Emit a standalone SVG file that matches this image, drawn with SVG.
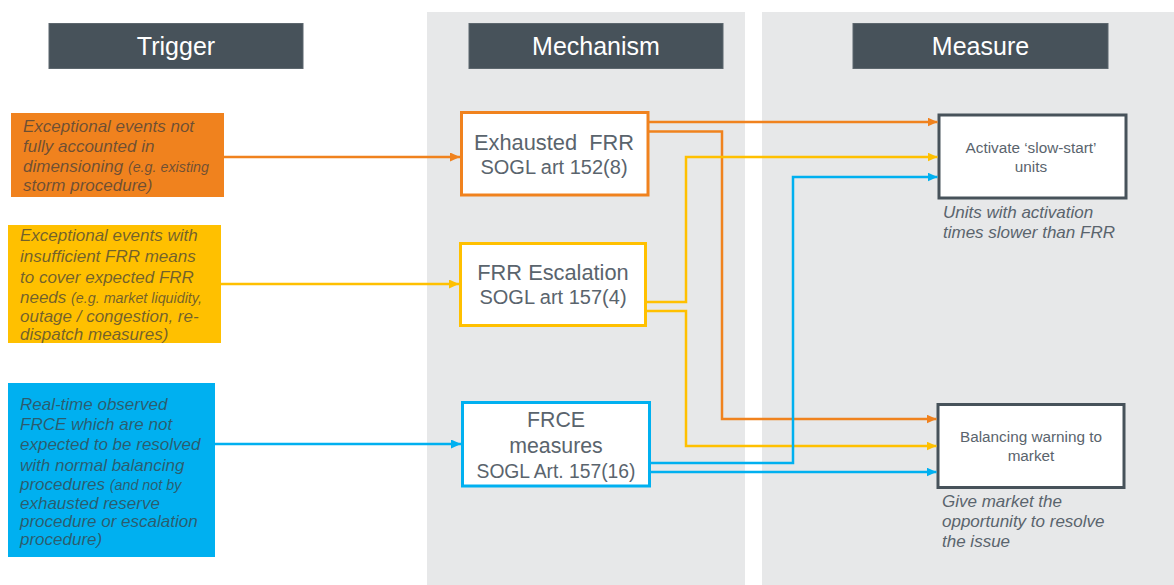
<svg xmlns="http://www.w3.org/2000/svg" width="1174" height="585" viewBox="0 0 1174 585">
<defs>
<style>
.col{fill:#E7E8E9}
.hdr rect{fill:#47525A;stroke:#5d676e;stroke-width:1}
.hdr text{fill:#FFFFFF;font-family:"Liberation Sans",Arial,sans-serif;font-size:25px;text-anchor:middle}
.trg text{fill:#3C3C3C;fill-opacity:0.72;font-family:"Liberation Sans",Arial,sans-serif;font-style:italic;font-size:17px}
.sm{font-size:14.3px}
.mech rect{fill:#FFFFFF;stroke-width:3}
.mech text{fill:#5A646D;font-family:"Liberation Sans",Arial,sans-serif;font-size:20px;text-anchor:middle;white-space:pre}
.mech text.t{font-size:21.8px}
.meas rect{fill:#FFFFFF;stroke:#47525A;stroke-width:3}
.meas text{fill:#5A646D;font-family:"Liberation Sans",Arial,sans-serif;font-size:15.3px;text-anchor:middle}
.meas text.cap{font-style:italic;font-size:17px;text-anchor:start}
.conn path{fill:none;stroke-width:2.5}
.or{stroke:#F0821E}
.ye{stroke:#FFC000}
.bl{stroke:#00B0F0}
</style>
<marker id="ao" markerUnits="userSpaceOnUse" markerWidth="11" markerHeight="10" refX="10" refY="4.5" orient="auto"><path d="M0,0 L10,4.5 L0,9 z" fill="#F0821E"/></marker>
<marker id="ay" markerUnits="userSpaceOnUse" markerWidth="11" markerHeight="10" refX="10" refY="4.5" orient="auto"><path d="M0,0 L10,4.5 L0,9 z" fill="#FFC000"/></marker>
<marker id="ab" markerUnits="userSpaceOnUse" markerWidth="11" markerHeight="10" refX="10" refY="4.5" orient="auto"><path d="M0,0 L10,4.5 L0,9 z" fill="#00B0F0"/></marker>
</defs>
<rect width="1174" height="585" fill="#FFFFFF"/>
<rect class="col" x="427" y="12" width="318" height="573"/>
<rect class="col" x="762" y="12" width="412" height="573"/>

<g id="header-trigger" class="hdr"><rect x="49" y="23.5" width="254" height="45"/><text x="176" y="55">Trigger</text></g>
<g id="header-mechanism" class="hdr"><rect x="469" y="23.5" width="254" height="45"/><text x="596" y="55">Mechanism</text></g>
<g id="header-measure" class="hdr"><rect x="853" y="23.5" width="255" height="45"/><text x="980.5" y="55">Measure</text></g>

<g id="trigger-exceptional-events" class="trg">
<rect x="11" y="113" width="213" height="84" fill="#F0821E"/>
<text x="23" y="132">Exceptional events not</text>
<text x="23" y="152">fully accounted in</text>
<text x="23" y="172">dimensioning <tspan class="sm">(e.g. existing</tspan></text>
<text x="23" y="191" class="sm">storm procedure)</text>
</g>
<g id="trigger-insufficient-frr" class="trg">
<rect x="8" y="225" width="213" height="118" fill="#FFC000"/>
<text x="20" y="241">Exceptional events with</text>
<text x="20" y="262">insufficient FRR means</text>
<text x="20" y="283">to cover expected FRR</text>
<text x="20" y="303">needs <tspan class="sm">(e.g. market liquidity,</tspan></text>
<text x="20" y="322" class="sm">outage / congestion, re-</text>
<text x="20" y="340" class="sm">dispatch measures)</text>
</g>
<g id="trigger-frce" class="trg">
<rect x="8" y="383" width="207" height="174" fill="#00B0F0"/>
<text x="20" y="410">Real-time observed</text>
<text x="20" y="430">FRCE which are not</text>
<text x="20" y="450">expected to be resolved</text>
<text x="20" y="471">with normal balancing</text>
<text x="20" y="490">procedures <tspan class="sm">(and not by</tspan></text>
<text x="20" y="509" class="sm">exhausted reserve</text>
<text x="20" y="527" class="sm">procedure or escalation</text>
<text x="20" y="545" class="sm">procedure)</text>
</g>

<g id="mech-exhausted-frr" class="mech">
<rect x="461.5" y="112.5" width="186.5" height="82.5" stroke="#F0821E"/>
<text class="t" x="554" y="150">Exhausted  FRR</text>
<text x="554" y="174">SOGL art 152(8)</text>
</g>
<g id="mech-frr-escalation" class="mech">
<rect x="460.5" y="243.5" width="185" height="82" stroke="#FFC000"/>
<text class="t" x="553" y="280">FRR Escalation</text>
<text x="553" y="304">SOGL art 157(4)</text>
</g>
<g id="mech-frce-measures" class="mech">
<rect x="462.5" y="402.5" width="187" height="83.5" stroke="#00B0F0"/>
<text x="556" y="427" style="font-size:21.3px">FRCE</text>
<text x="556" y="453" style="font-size:21.3px">measures</text>
<text x="556" y="478" style="font-size:19.3px">SOGL Art. 157(16)</text>
</g>

<g id="measure-slow-start" class="meas">
<rect x="939" y="115" width="187" height="83"/>
<text x="1031" y="152.5">Activate ‘slow-start’</text>
<text x="1031" y="171.5">units</text>
<text class="cap" x="943" y="218">Units with activation</text>
<text class="cap" x="943" y="238">times slower than FRR</text>
</g>
<g id="measure-balancing-warning" class="meas">
<rect x="938" y="404.5" width="186" height="83"/>
<text x="1031" y="441.5">Balancing warning to</text>
<text x="1031" y="460.5">market</text>
<text class="cap" x="942" y="507">Give market the</text>
<text class="cap" x="942" y="527">opportunity to resolve</text>
<text class="cap" x="942" y="547">the issue</text>
</g>

<g id="connectors" class="conn">
<path class="or" d="M224,157 H460" marker-end="url(#ao)"/>
<path class="ye" d="M221,284 H459" marker-end="url(#ay)"/>
<path class="bl" d="M215,444 H461" marker-end="url(#ab)"/>
<path class="or" d="M649,122 H937.5" marker-end="url(#ao)"/>
<path class="or" d="M649,131.5 H722 V419 H936.5" marker-end="url(#ao)"/>
<path class="ye" d="M647,302 H686 V157 H937.5" marker-end="url(#ay)"/>
<path class="ye" d="M647,311 H686 V446 H936.5" marker-end="url(#ay)"/>
<path class="bl" d="M651,463 H793 V177 H937.5" marker-end="url(#ab)"/>
<path class="bl" d="M651,472 H936.5" marker-end="url(#ab)"/>
</g>
</svg>
